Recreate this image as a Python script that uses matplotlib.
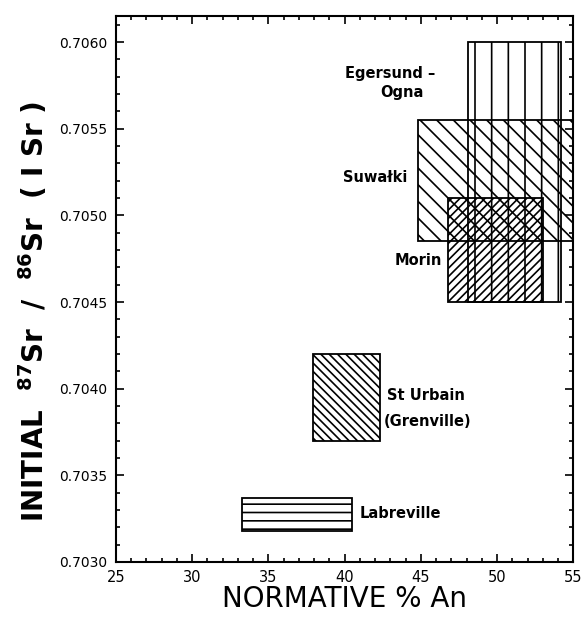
import matplotlib
matplotlib.use("Agg")
import matplotlib.pyplot as plt
from matplotlib.patches import Rectangle
from matplotlib.ticker import MultipleLocator, FormatStrFormatter

# ranges of normative An and initial Sr ratio for each anorthosite massif
massifs = ["Egersund-Ogna", "Suwalki", "Morin", "St Urbain", "Labreville"]
an_low = [48.1, 44.8, 46.8, 37.9, 33.3]
an_high = [54.2, 55.0, 53.0, 42.3, 40.5]
sr_low = [0.7045, 0.70485, 0.7045, 0.7037, 0.70318]
sr_high = [0.7060, 0.70555, 0.7051, 0.7042, 0.70337]

hatches = ["|", "\\\\", "////", "\\\\\\\\", "--"]

plt.rcParams["font.family"] = ["DejaVu Sans"]
plt.rcParams["hatch.linewidth"] = 1.2
plt.rcParams["mathtext.default"] = "bf"

fig = plt.figure(figsize=(5.82, 6.22), dpi=100)
ax = fig.add_axes([0.199, 0.0965, 0.786, 0.8775])

for x0, x1, y0, y1, h in zip(an_low, an_high, sr_low, sr_high, hatches):
    ax.add_patch(Rectangle((x0, y0), x1 - x0, y1 - y0, facecolor="none",
                           edgecolor="black", linewidth=1.3, hatch=h))

lbl = dict(fontsize=10.5, fontweight="bold", va="center")
ax.text(45.95, 0.70582, "Egersund –", ha="right", **lbl)
ax.text(45.2, 0.70571, "Ogna", ha="right", **lbl)
ax.text(44.1, 0.70522, "Suwałki", ha="right", **lbl)
ax.text(46.4, 0.70474, "Morin", ha="right", **lbl)
ax.text(42.8, 0.70396, "St Urbain", ha="left", **lbl)
ax.text(42.6, 0.70381, "(Grenville)", ha="left", **lbl)
ax.text(41.0, 0.70328, "Labreville", ha="left", **lbl)

ax.set_xlim(25, 55)
ax.set_ylim(0.7030, 0.70615)
ax.xaxis.set_major_locator(MultipleLocator(5))
ax.xaxis.set_minor_locator(MultipleLocator(1))
ax.yaxis.set_major_locator(MultipleLocator(0.0005))
ax.yaxis.set_minor_locator(MultipleLocator(0.0001))
ax.yaxis.set_major_formatter(FormatStrFormatter("%.4f"))

ax.tick_params(which="both", direction="in", top=True, right=True, width=1.2)
ax.tick_params(which="major", length=6)
ax.tick_params(which="minor", length=3)
ax.tick_params(axis="y", labelsize=10, pad=6)
ax.tick_params(axis="x", labelsize=10.5, pad=6)
for s in ax.spines.values():
    s.set_linewidth(1.5)

ax.set_xlabel("NORMATIVE % An", fontsize=20, labelpad=0)
ax.set_ylabel(r"INITIAL  $^{87}$Sr  /  $^{86}$Sr  ( I Sr )", fontsize=20,
              fontweight="bold")
ax.yaxis.set_label_coords(-0.143, 0.46)

fig.savefig("out.png", dpi=100)
